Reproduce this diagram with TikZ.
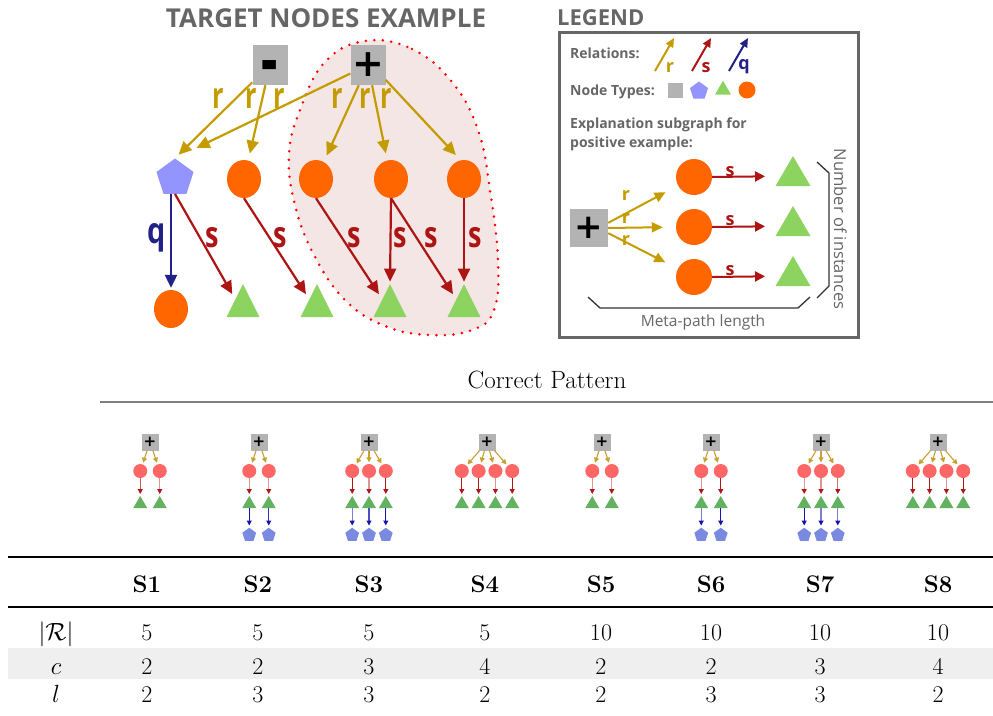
\documentclass[tikz,border=0pt]{standalone}
\usepackage{fontspec}
\usepackage{graphicx}
\newfontfamily\osans{Open Sans}
\newfontfamily\djv{DejaVu Sans}
\usetikzlibrary{shapes.geometric,arrows.meta,calc}
\definecolor{ttlgray}{HTML}{666666}
\definecolor{sqgray}{HTML}{B3B3B3}
\definecolor{orng}{HTML}{FF6600}
\definecolor{lav}{HTML}{9494FF}
\definecolor{grn}{HTML}{8CD35F}
\definecolor{gold}{HTML}{C49C00}
\definecolor{dred}{HTML}{AD1414}
\definecolor{navy}{HTML}{212187}
\definecolor{pinkfill}{HTML}{F5E6E6}
\definecolor{mcircc}{HTML}{FF6666}
\definecolor{mtric}{HTML}{62B262}
\definecolor{mpentc}{HTML}{7A8AE0}
\definecolor{mgold}{HTML}{C8A032}
\definecolor{mred}{HTML}{B01818}
\definecolor{mblue}{HTML}{1414B0}
\definecolor{bandgray}{HTML}{EFEFEF}
\newcommand\minigraph[6]{%
  \node[msq] (#1q) at (#2,442) {\djv\bfseries\fontsize{15}{15}\selectfont +};
  \pgfmathsetmacro\mspc{ifthenelse(#3==2,19.5,16.8)}
  \foreach \i in {1,...,#3}{
    \pgfmathsetmacro\mx{#2+(\i-(#3+1)/2)*\mspc}
    \pgfmathtruncatemacro\rs{{#5}[\i-1]}
    \node[mcirc] (#1c\i) at (\mx,471) {};
    \node[mtri] (#1t\i) at (\mx,504) {};
    \draw[marrg] (#1q) -- (#1c\i);
    \draw[marrr, draw=mred!\rs!white] (#1c\i) -- (#1t\i);
    \ifnum#4=1
      \pgfmathtruncatemacro\bs{{#6}[\i-1]}
      \node[mpent] (#1p\i) at (\mx,535) {};
      \draw[marrb, draw=mblue!\bs!white] (#1t\i) -- (#1p\i);
    \fi
  }
}
\tikzset{
  bigsq/.style={rectangle, fill=sqgray, minimum width=35pt, minimum height=40pt, inner sep=0pt},
  bigcirc/.style={ellipse, fill=orng, minimum width=34pt, minimum height=38pt, inner sep=0pt},
  bigpent/.style={regular polygon, regular polygon sides=5, fill=lav, minimum size=39pt, inner sep=0pt},
  bigtri/.style={isosceles triangle, shape border rotate=90, isosceles triangle stretches, fill=grn, minimum width=33pt, minimum height=33pt, inner sep=0pt},
  rarr/.style={draw=gold, line width=2.2pt, -{Triangle[length=13pt,width=12pt]}},
  sarr/.style={draw=dred, line width=2.2pt, -{Triangle[length=13pt,width=12pt]}},
  qarr/.style={draw=navy, line width=2.2pt, -{Triangle[length=13pt,width=12pt]}},
  biglbl/.style={inner sep=0pt, anchor=base, font=\osans\bfseries\fontsize{36}{36}\selectfont},
  leglbl/.style={inner sep=0pt, anchor=base west, text=ttlgray, font=\osans\bfseries\fontsize{14}{16}\selectfont},
  smlbl/.style={inner sep=0pt, anchor=base, font=\osans\bfseries\fontsize{18}{18}\selectfont},
  msq/.style={rectangle, fill=sqgray, minimum size=17pt, inner sep=0pt},
  mcirc/.style={circle, fill=mcircc, minimum size=14pt, inner sep=0pt},
  mtri/.style={isosceles triangle, shape border rotate=90, isosceles triangle stretches, fill=mtric, minimum width=14pt, minimum height=12pt, inner sep=0pt},
  mpent/.style={regular polygon, regular polygon sides=5, fill=mpentc, minimum size=14.5pt, inner sep=0pt},
  marrg/.style={draw=mgold, line width=1.1pt, shorten >=1.5pt, -{Triangle[length=5pt,width=5pt,color=mgold]}},
  marrr/.style={line width=1.1pt, shorten >=1.5pt, -{Triangle[length=5pt,width=5pt,color=mred]}},
  marrb/.style={line width=1.1pt, shorten >=2pt, -{Triangle[length=5pt,width=5pt,color=mblue]}},
  tcell/.style={inner sep=0pt, anchor=base, font=\fontsize{24}{28}\selectfont},
}
\begin{document}
\begin{tikzpicture}[x=1pt,y=-1pt]
\useasboundingbox (0,0) rectangle (993,715);
% ---------- target nodes example ----------
\node[inner sep=0pt, anchor=base, text=ttlgray, font=\osans\bfseries\fontsize{26}{26}\selectfont] (title) at (326,27) {TARGET NODES EXAMPLE};
\draw[fill=pinkfill, draw=red, line width=2.8pt, line cap=round, dash pattern=on 0pt off 8.5pt]
  plot[smooth cycle, tension=0.7] coordinates {(365,41) (412,49) (452,82) (478,130) (490,190) (498,260) (494,310) (472,330) (430,335) (385,326) (345,300) (314,255) (295,205) (289,155) (300,110) (325,62)};
\node[bigsq] (minus) at (270,65) {\djv\bfseries\fontsize{40}{40}\selectfont\raisebox{-18.5pt}[0pt][0pt]{\scalebox{1.1}[1.6]{-}}};
\node[bigsq] (plus) at (368,65) {\djv\bfseries\fontsize{38}{38}\selectfont +};
\node[bigpent] (pent) at (175,178) {};
\node[bigcirc] (c1) at (244,179) {};
\node[bigcirc] (c2) at (316,179) {};
\node[bigcirc] (c3) at (391,179) {};
\node[bigcirc] (c4) at (464,179) {};
\node[bigcirc] (bc) at (171,309) {};
\node[bigtri] (t1) at (243,307) {};
\node[bigtri] (t2) at (317,307) {};
\node[bigtri] (t3) at (390,307) {};
\node[bigtri] (t4) at (464,307) {};
\draw[rarr, shorten >=5pt] (minus) -- (pent.corner 1);
\draw[rarr, shorten >=7pt] (minus) -- (c1);
\draw[rarr, shorten >=24pt] (plus) -- (pent.corner 1);
\draw[rarr, shorten >=7pt] (plus) -- (c2);
\draw[rarr, shorten >=7pt] (plus) -- (c3);
\draw[rarr, shorten >=7pt] (plus.-40) -- (c4.100);
\draw[qarr, shorten >=2pt] (bc.north |- pent.south) -- (bc.north);
\draw[sarr, shorten >=6pt] (pent.south) -- (t1.north west);
\draw[sarr, shorten >=6pt] (c1.south) -- (t2.north west);
\draw[sarr, shorten >=6pt] (c2.south) -- (t3.north west);
\draw[sarr, shorten >=2pt] (c3.south) -- (t3.north);
\draw[sarr, shorten >=6pt] (c3.south) -- (t4.north west);
\draw[sarr, shorten >=2pt] (c4.south) -- (t4.north);
\node[biglbl, text=gold] (lr1) at (218,108) {\scalebox{0.7}[1]{r}};
\node[biglbl, text=gold] (lr2) at (251,108) {\scalebox{0.7}[1]{r}};
\node[biglbl, text=gold] (lr3) at (279,108) {\scalebox{0.7}[1]{r}};
\node[biglbl, text=gold] (lr4) at (337,108) {\scalebox{0.7}[1]{r}};
\node[biglbl, text=gold] (lr5) at (365,108) {\scalebox{0.7}[1]{r}};
\node[biglbl, text=gold] (lr6) at (386,108) {\scalebox{0.7}[1]{r}};
\node[biglbl, text=navy] (lq) at (157,243) {\scalebox{0.8}[1]{q}};
\node[biglbl, text=dred] (ls1) at (212,247) {\scalebox{0.75}[1]{s}};
\node[biglbl, text=dred] (ls2) at (280,247) {\scalebox{0.75}[1]{s}};
\node[biglbl, text=dred] (ls3) at (354,247) {\scalebox{0.75}[1]{s}};
\node[biglbl, text=dred] (ls4) at (400,247) {\scalebox{0.75}[1]{s}};
\node[biglbl, text=dred] (ls5) at (431,247) {\scalebox{0.75}[1]{s}};
\node[biglbl, text=dred] (ls6) at (475,247) {\scalebox{0.75}[1]{s}};
% ---------- legend ----------
\node[inner sep=0pt, anchor=base west, text=ttlgray, font=\osans\bfseries\fontsize{22}{22}\selectfont] (legt) at (557,25) {LEGEND};
\node[draw=ttlgray, line width=3pt, minimum width=299pt, minimum height=305pt, anchor=north west, inner sep=0pt] (legbox) at (558,31) {};
\node[leglbl] (lrel) at (570,58) {Relations:};
\coordinate (ra0) at (655,71); \coordinate (ra1) at (674,38);
\coordinate (sa0) at (692,71); \coordinate (sa1) at (711,38);
\coordinate (qa0) at (729,71); \coordinate (qa1) at (748,38);
\draw[draw=gold, line width=2pt, -{Triangle[length=9pt,width=8pt]}] (ra0) -- (ra1);
\draw[draw=dred, line width=2pt, -{Triangle[length=9pt,width=8pt]}] (sa0) -- (sa1);
\draw[draw=navy, line width=2pt, -{Triangle[length=9pt,width=8pt]}] (qa0) -- (qa1);
\node[smlbl, text=gold] (rl) at (670,72) {r};
\node[smlbl, text=dred] (sl) at (706,72) {s};
\node[smlbl, text=navy] (ql) at (744,69) {q};
\node[leglbl] (lnt) at (570,95) {Node Types:};
\node[rectangle, fill=sqgray, minimum size=15pt, inner sep=0pt] (nt1) at (675,90) {};
\node[regular polygon, regular polygon sides=5, fill=lav, minimum size=19pt, inner sep=0pt] (nt2) at (699,91) {};
\node[isosceles triangle, shape border rotate=90, isosceles triangle stretches, fill=grn, minimum width=16pt, minimum height=14pt, inner sep=0pt] (nt3) at (723,90) {};
\node[circle, fill=orng, minimum size=17pt, inner sep=0pt] (nt4) at (747,90) {};
\node[leglbl, align=left, anchor=base west] (lexp) at (570,128) {Explanation subgraph for};
\node[leglbl, align=left, anchor=base west] (lexp2) at (570,147) {positive example:};
\node[rectangle, fill=sqgray, minimum size=38pt, inner sep=0pt] (lsq) at (589,228) {\djv\bfseries\fontsize{34}{34}\selectfont +};
\foreach \k/\yy in {1/177,2/227,3/277}{
  \node[circle, fill=orng, minimum size=36pt, inner sep=0pt] (lc\k) at (694,\yy) {};
  \node[isosceles triangle, shape border rotate=90, isosceles triangle stretches, fill=grn, minimum width=35pt, minimum height=30pt, inner sep=0pt] (lt\k) at (793,\yy-1) {};
  \draw[draw=dred, line width=2pt, shorten >=16pt, -{Triangle[length=10pt,width=10pt]}] (lc\k.east) -- (lt\k);
}
\draw[draw=gold, line width=2pt, shorten >=14pt, -{Triangle[length=11pt,width=10pt]}] (lsq.15) -- (lc1);
\draw[draw=gold, line width=2pt, shorten >=13pt, -{Triangle[length=11pt,width=10pt]}] (lsq.east) -- (lc2.west);
\draw[draw=gold, line width=2pt, shorten >=14pt, -{Triangle[length=11pt,width=10pt]}] (lsq.-15) -- (lc3);
\node[smlbl, text=gold] (lr1) at (626,200) {r};
\node[smlbl, text=gold] (lr2) at (626,223) {r};
\node[smlbl, text=gold] (lr3) at (626,245) {r};
\node[smlbl, text=dred] (ls1) at (730,176) {s};
\node[smlbl, text=dred] (ls2) at (730,225) {s};
\node[smlbl, text=dred] (ls3) at (730,275) {s};
\coordinate (bb1) at (588,297); \coordinate (bb2) at (600,308); \coordinate (bb3) at (798,308); \coordinate (bb4) at (810,297);
\draw[draw=black!80, line width=1.3pt] (bb1) -- (bb2) -- (bb3) -- (bb4);
\coordinate (rb1) at (817,162); \coordinate (rb2) at (829,173); \coordinate (rb3) at (829,286); \coordinate (rb4) at (817,298);
\draw[draw=black!80, line width=1.3pt] (rb1) -- (rb2) -- (rb3) -- (rb4);
\node[inner sep=0pt, anchor=base, text=ttlgray, font=\osans\fontsize{15.5}{15.5}\selectfont] (mpl) at (703,326) {Meta-path length};
\node[inner sep=0pt, anchor=base, rotate=-90, text=ttlgray, font=\osans\fontsize{16.5}{16.5}\selectfont] (noi) at (834,229) {Number of instances};
% ---------- correct pattern ----------
\node[inner sep=0pt, anchor=base, font=\fontsize{25}{28}\selectfont] (cp) at (547,388) {Correct Pattern};
\coordinate (cpl) at (100,402); \coordinate (cpr) at (993,402);
\draw[draw=black!50, line width=1.5pt] (cpl) -- (cpr);
\minigraph{ga}{150}{2}{0}{70,45}{100}
\minigraph{gb}{259}{2}{1}{45,45}{100,85}
\minigraph{gc}{369}{3}{1}{100,45,100}{55,75,100}
\minigraph{gd}{487}{4}{0}{100,100,45,100}{100}
\minigraph{ge}{602}{2}{0}{45,45}{100}
\minigraph{gf}{711}{2}{1}{45,100}{55,100}
\minigraph{gg}{821}{3}{1}{45,45,60}{100,55,55}
\minigraph{gh}{938}{4}{0}{100,100,45,100}{100}
% ---------- table ----------
\fill[bandgray] (8,648) rectangle (993,679);
\coordinate (tr1) at (8,557); \coordinate (tr2) at (993,557);
\draw[line width=2pt] (tr1) -- (tr2);
\coordinate (mr1) at (8,607); \coordinate (mr2) at (993,607);
\draw[line width=1.2pt] (mr1) -- (mr2);
\node[tcell] (rlab) at (56,640) {$|\mathcal{R}|$};
\node[tcell] (clab) at (56,674) {$c$};
\node[tcell] (llab) at (56,702) {$l$};
\foreach \n/\xx/\rv/\cv/\lv in {1/147/5/2/2, 2/258/5/2/3, 3/369/5/3/3, 4/485/5/4/2, 5/601/10/2/2, 6/711/10/2/3, 7/820/10/3/3, 8/938/10/4/2}{
  \node[tcell] (h\n) at (\xx,592) {\textbf{S\n}};
  \node[tcell] (vr\n) at (\xx,640) {\rv};
  \node[tcell] (vc\n) at (\xx,674) {\cv};
  \node[tcell] (vl\n) at (\xx,702) {\lv};
}
\end{tikzpicture}
\end{document}
